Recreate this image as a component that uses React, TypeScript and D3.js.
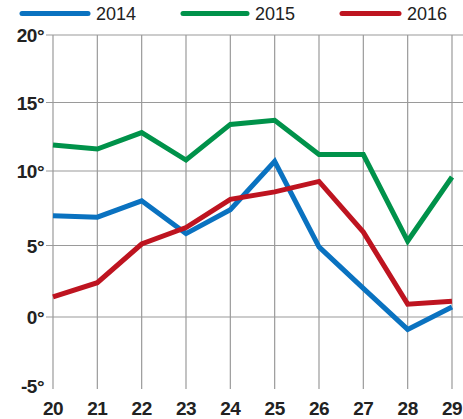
import React, { useEffect, useRef } from "react";
import * as d3 from "d3";

const days = [20, 21, 22, 23, 24, 25, 26, 27, 28, 29];
const yTicks = [20, 15, 10, 5, 0, -5];
const temps2014 = [7.0, 6.9, 8.0, 5.8, 7.4, 10.7, 4.9, 2.0, -0.9, 0.7];
const temps2015 = [11.9, 11.6, 12.8, 10.8, 13.4, 13.7, 11.2, 11.2, 5.3, 9.6];
const temps2016 = [1.4, 2.4, 5.1, 6.2, 8.1, 8.6, 9.3, 5.9, 0.9, 1.1];
const seriesNames = ["2014", "2015", "2016"];
const colors = ["#0a72c0", "#00924a", "#be1420"];

const App = () => {
    const ref = useRef<SVGSVGElement>(null);

    useEffect(() => {
        const svg = d3.select(ref.current);
        svg.selectAll("*").remove();

        const x = d3.scalePoint<number>().domain(days).range([53, 452]);
        // the printed grid is not quite even, so pin each tick
        const y = d3.scaleLinear()
            .domain([-5, 0, 5, 10, 15, 20])
            .range([386, 317, 245.5, 171, 102.5, 35]);

        const font = "'Liberation Sans', Arial, sans-serif";

        // horizontal grid
        svg.append("g").selectAll("line")
            .data(yTicks.filter(d => d !== -5))
            .join("line")
            .attr("x1", 46).attr("x2", 463)
            .attr("y1", d => y(d)).attr("y2", d => y(d))
            .attr("stroke", "#9a9a9a").attr("stroke-width", 1.2);

        // vertical grid
        svg.append("g").selectAll("line")
            .data(days)
            .join("line")
            .attr("x1", d => x(d)!).attr("x2", d => x(d)!)
            .attr("y1", y(20)).attr("y2", 389)
            .attr("stroke", "#9a9a9a").attr("stroke-width", 1.2);

        svg.append("g").selectAll("text")
            .data(yTicks)
            .join("text")
            .attr("x", 44).attr("y", d => y(d) + 7)
            .attr("text-anchor", "end")
            .attr("font-family", font).attr("font-weight", "bold")
            .attr("font-size", 19).attr("fill", "#222")
            .attr("letter-spacing", -0.5)
            .text(d => `${d}°`);

        svg.append("g").selectAll("text")
            .data(days)
            .join("text")
            .attr("x", d => x(d)!).attr("y", 415)
            .attr("text-anchor", "middle")
            .attr("font-family", font).attr("font-weight", "bold")
            .attr("font-size", 19).attr("fill", "#222")
            .attr("letter-spacing", -0.5)
            .text(d => d);

        const line = d3.line<number>()
            .x((d, i) => x(days[i])!)
            .y(d => y(d));

        [temps2014, temps2015, temps2016].forEach((vals, i) => {
            svg.append("path")
                .datum(vals)
                .attr("fill", "none")
                .attr("stroke", colors[i])
                .attr("stroke-width", 5)
                .attr("stroke-linejoin", "miter")
                .attr("d", line);
        });

        // legend
        const legendX = [22, 183, 342];
        const legendW = [66, 64, 57];
        seriesNames.forEach((name, i) => {
            svg.append("line")
                .attr("x1", legendX[i]).attr("x2", legendX[i] + legendW[i])
                .attr("y1", 13.5).attr("y2", 13.5)
                .attr("stroke", colors[i]).attr("stroke-width", 5)
                .attr("stroke-linecap", "round");
            svg.append("text")
                .attr("x", legendX[i] + legendW[i] + 8).attr("y", 20)
                .attr("font-family", font).attr("font-size", 18)
                .attr("fill", "#222")
                .text(name);
        });
    }, []);

    return (
        <svg ref={ref} width={463} height={419}
            style={{ position: "absolute", left: 0, top: 0, background: "#fff" }} />
    );
};

export default App;
